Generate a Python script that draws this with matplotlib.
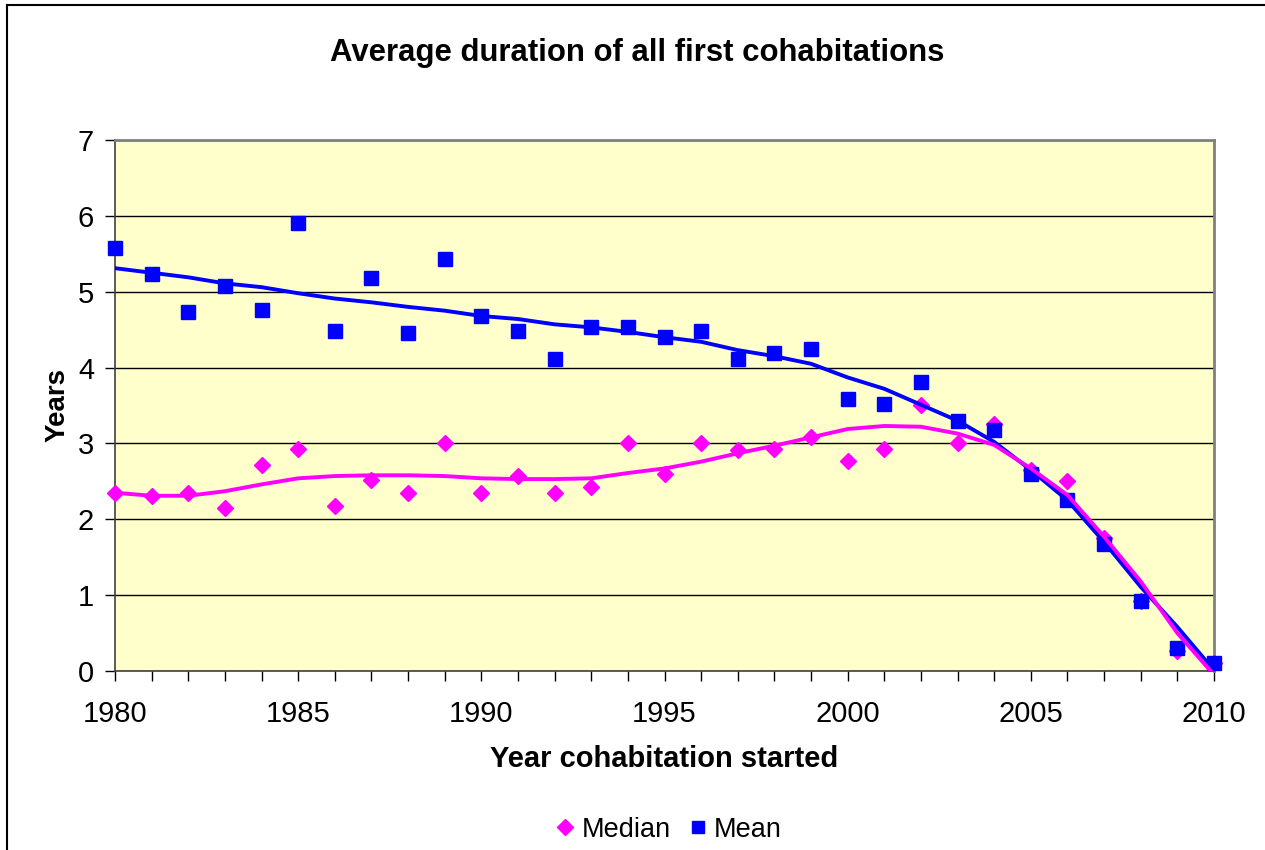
import matplotlib.pyplot as plt
from matplotlib.lines import Line2D

plt.rcParams['font.family'] = ['Liberation Sans', 'DejaVu Sans']

years = list(range(1980, 2011))
mean = [5.57, 5.23, 4.73, 5.07, 4.76, 5.90, 4.48, 5.18, 4.45, 5.43,
        4.68, 4.48, 4.11, 4.53, 4.53, 4.40, 4.48, 4.11, 4.19, 4.24,
        3.59, 3.52, 3.81, 3.30, 3.18, 2.60, 2.25, 1.67, 0.92, 0.30, 0.11]
median = [2.35, 2.31, 2.35, 2.15, 2.72, 2.93, 2.18, 2.52, 2.35, 3.01,
          2.35, 2.57, 2.35, 2.43, 3.01, 2.60, 3.01, 2.91, 2.93, 3.08,
          2.77, 2.93, 3.51, 3.01, 3.26, 2.65, 2.50, 1.75, 0.92, 0.26, 0.11]
# trendlines
mean_trend = [5.31, 5.25, 5.19, 5.11, 5.06, 4.98, 4.91, 4.86, 4.80, 4.75,
              4.68, 4.64, 4.57, 4.53, 4.47, 4.40, 4.34, 4.23, 4.15, 4.05,
              3.87, 3.72, 3.51, 3.30, 3.02, 2.65, 2.25, 1.70, 1.11, 0.58, 0.01]
median_trend = [2.35, 2.31, 2.31, 2.37, 2.46, 2.54, 2.57, 2.58, 2.58, 2.57,
                2.54, 2.53, 2.53, 2.54, 2.61, 2.67, 2.76, 2.87, 2.97, 3.08,
                3.19, 3.23, 3.22, 3.13, 2.98, 2.67, 2.32, 1.77, 1.18, 0.50, -0.05]

blue = '#0000FF'
pink = '#FF00FF'

fig = plt.figure(figsize=(12.65, 8.5), dpi=100)
ax = fig.add_axes([115/1265, (850-671)/850, (1214-115)/1265, (671-140)/850])
ax.set_facecolor('#FFFFCC')

ax.plot(years, median, 'D', color=pink, ms=8.5, mec=pink, zorder=3, clip_on=False)
ax.plot(years, mean, 's', color=blue, ms=10, mec=blue, zorder=4, clip_on=False)
ax.plot(years, mean_trend, color=blue, lw=2.8, zorder=5, solid_joinstyle='round')
ax.plot(years, median_trend, color=pink, lw=2.8, zorder=6, solid_joinstyle='round')

ax.set_xlim(1980, 2010)
ax.set_ylim(0, 7)
ax.set_xticks(range(1980, 2011, 5))
ax.set_xticks(years, minor=True)
ax.set_yticks(range(0, 8))
ax.yaxis.grid(True, color='black', lw=1)
ax.set_axisbelow(True)
ax.tick_params(axis='both', which='both', direction='out', length=7, width=1,
               color='black', labelsize=21)
ax.tick_params(axis='x', which='major', pad=14)
ax.tick_params(axis='y', pad=8)

for s in ['top', 'right']:
    ax.spines[s].set_color('#808080')
    ax.spines[s].set_linewidth(2)
for s in ['left', 'bottom']:
    ax.spines[s].set_color('#404040')
    ax.spines[s].set_linewidth(1.2)

ax.set_xlabel('Year cohabitation started', fontsize=21, fontweight='bold', labelpad=12)
ax.set_ylabel('Years', fontsize=20, fontweight='bold', labelpad=5)
fig.text(0.504, 0.938, 'Average duration of all first cohabitations', ha='center',
         va='center', fontsize=22.4, fontweight='bold')

handles = [Line2D([], [], marker='D', color=pink, ls='none', ms=8),
           Line2D([], [], marker='s', color=blue, ls='none', ms=8)]
fig.legend(handles, ['Median', 'Mean'], loc='center', bbox_to_anchor=(0.527, 0.024),
           ncol=2, frameon=False, fontsize=19.5, handletextpad=0.1, columnspacing=0.5,
           handlelength=1.0)

# outer chart border (cropped on right and bottom)
fig.add_artist(Line2D([7/1265, 7/1265], [0, 1 - 5/850], color='black', lw=1.5,
                      transform=fig.transFigure))
fig.add_artist(Line2D([7/1265, 1], [1 - 5/850, 1 - 5/850], color='black', lw=1.5,
                      transform=fig.transFigure))

fig.savefig('out.png', dpi=100)
